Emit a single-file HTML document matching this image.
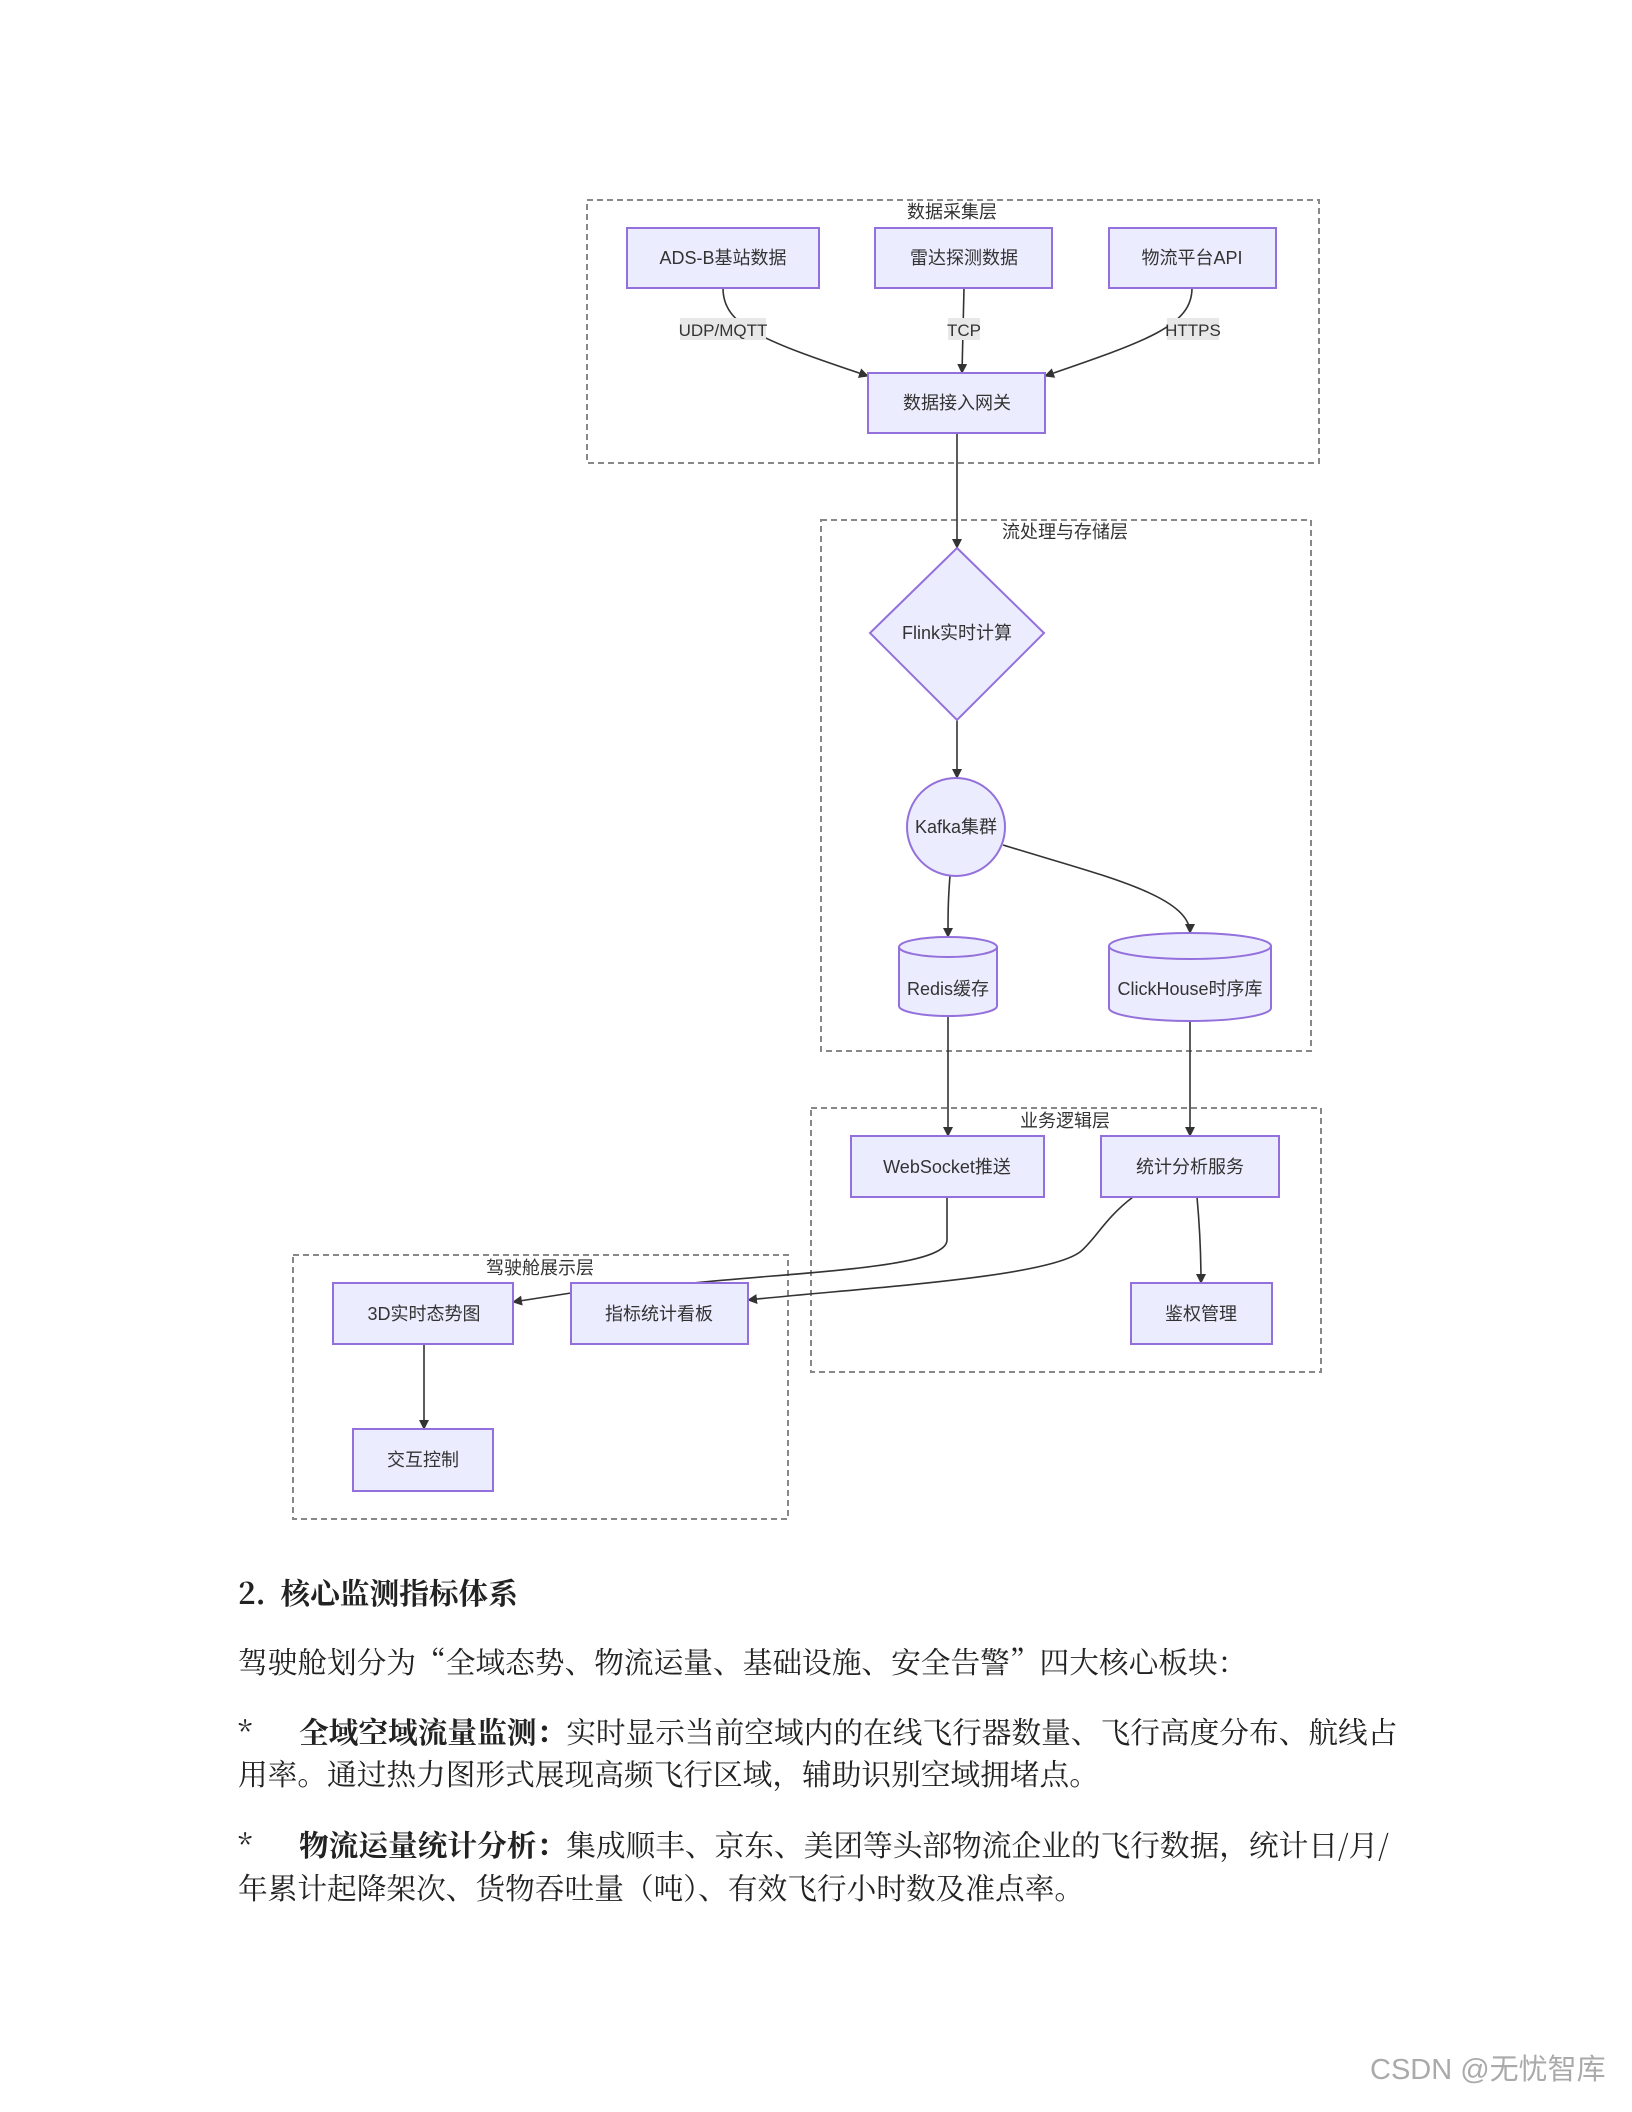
<!DOCTYPE html>
<html><head><meta charset="utf-8"><style>
body{margin:0;background:#fff;width:1632px;height:2112px;position:relative;overflow:hidden}
svg{position:absolute;left:0;top:0}
.t{position:absolute;font-family:"Noto Serif CJK SC","Liberation Serif",serif;font-size:29.7px;line-height:40px;color:#222;white-space:nowrap}
</style></head><body>
<svg width="1632" height="2112" viewBox="0 0 1632 2112" font-family="'Liberation Sans','Noto Sans CJK SC',sans-serif">
<defs><marker id="a" markerWidth="10" markerHeight="10" refX="9" refY="5" orient="auto" markerUnits="userSpaceOnUse"><path d="M0,0 L10,5 L0,10 z" fill="#333"/></marker></defs>
<g fill="none" stroke="#888" stroke-width="2" stroke-dasharray="6,4">
<rect x="587" y="200" width="732" height="263"/>
<rect x="821" y="520" width="490" height="531"/>
<rect x="811" y="1108" width="510" height="264"/>
<rect x="293" y="1255" width="495" height="264"/>
</g>
<g font-size="18" fill="#333" text-anchor="middle">
<text x="952" y="218">数据采集层</text>
<text x="1065" y="538">流处理与存储层</text>
<text x="1065" y="1127">业务逻辑层</text>
<text x="540" y="1274">驾驶舱展示层</text>
</g>
<g fill="none" stroke="#333" stroke-width="1.6">
<path d="M723,288 C723,325 760,340 868,376" marker-end="url(#a)"/>
<path d="M964,288 L962,373" marker-end="url(#a)"/>
<path d="M1192,288 C1192,325 1150,340 1045,376" marker-end="url(#a)"/>
<path d="M957,433 L957,548" marker-end="url(#a)"/>
<path d="M957,720 L957,778" marker-end="url(#a)"/>
<path d="M950,876 C948,900 948,915 948,937" marker-end="url(#a)"/>
<path d="M1003,845 C1100,875 1190,895 1190,933" marker-end="url(#a)"/>
<path d="M948,1016 L948,1136" marker-end="url(#a)"/>
<path d="M1190,1021 L1190,1136" marker-end="url(#a)"/>
<path d="M947,1197 L947,1240 C947,1268 800,1272 693,1283"/>
<path d="M1133,1197 C1105,1218 1095,1240 1080,1252 C1045,1278 860,1288 748,1300" marker-end="url(#a)"/>
<path d="M571,1293 L513,1302" marker-end="url(#a)"/>
<path d="M1197,1197 C1200,1230 1201,1255 1201,1283" marker-end="url(#a)"/>
<path d="M424,1344 L424,1429" marker-end="url(#a)"/>
</g>
<g fill="#e8e8e8">
<rect x="680" y="318" width="86" height="22"/>
<rect x="948" y="318" width="32" height="22"/>
<rect x="1167" y="318" width="52" height="22"/>
</g>
<g font-size="17" fill="#333" text-anchor="middle">
<text x="723" y="336">UDP/MQTT</text>
<text x="964" y="336">TCP</text>
<text x="1193" y="336">HTTPS</text>
</g>
<g fill="#ececff" stroke="#9370db" stroke-width="2">
<rect x="627" y="228" width="192" height="60"/>
<rect x="875" y="228" width="177" height="60"/>
<rect x="1109" y="228" width="167" height="60"/>
<rect x="868" y="373" width="177" height="60"/>
<path d="M957,548 L1044,633 L957,720 L870,633 z"/>
<circle cx="956" cy="827" r="49"/>
<path d="M899,947 L899,1006 A49,10 0 0 0 997,1006 L997,947"/>
<ellipse cx="948" cy="947" rx="49" ry="10"/>
<path d="M1109,946 L1109,1008 A81,13 0 0 0 1271,1008 L1271,946"/>
<ellipse cx="1190" cy="946" rx="81" ry="13"/>
<rect x="851" y="1136" width="193" height="61"/>
<rect x="1101" y="1136" width="178" height="61"/>
<rect x="1131" y="1283" width="141" height="61"/>
<rect x="333" y="1283" width="180" height="61"/>
<rect x="571" y="1283" width="177" height="61"/>
<rect x="353" y="1429" width="140" height="62"/>
</g>
<g font-size="18" fill="#333" text-anchor="middle">
<text x="723" y="264">ADS-B基站数据</text>
<text x="964" y="264">雷达探测数据</text>
<text x="1192" y="264">物流平台API</text>
<text x="957" y="409">数据接入网关</text>
<text x="957" y="639">Flink实时计算</text>
<text x="956" y="833">Kafka集群</text>
<text x="948" y="995">Redis缓存</text>
<text x="1190" y="995">ClickHouse时序库</text>
<text x="947" y="1173">WebSocket推送</text>
<text x="1190" y="1173">统计分析服务</text>
<text x="1201" y="1320">鉴权管理</text>
<text x="424" y="1320">3D实时态势图</text>
<text x="659" y="1320">指标统计看板</text>
<text x="423" y="1466">交互控制</text>
</g>
</svg>
<div class="t" style="left:238px;top:1572px;font-weight:bold">2.&nbsp; 核心监测指标体系</div>
<div class="t" style="left:238px;top:1641px">驾驶舱划分为“全域态势、物流运量、基础设施、安全告警”四大核心板块：</div>
<div class="t" style="left:238px;top:1711px">*</div>
<div class="t" style="left:299px;top:1711px"><b>全域空域流量监测：</b>实时显示当前空域内的在线飞行器数量、飞行高度分布、航线占</div>
<div class="t" style="left:238px;top:1753px">用率。通过热力图形式展现高频飞行区域，辅助识别空域拥堵点。</div>
<div class="t" style="left:238px;top:1824px">*</div>
<div class="t" style="left:299px;top:1824px"><b>物流运量统计分析：</b>集成顺丰、京东、美团等头部物流企业的飞行数据，统计日/月/</div>
<div class="t" style="left:238px;top:1867px">年累计起降架次、货物吞吐量（吨）、有效飞行小时数及准点率。</div>
<div style="position:absolute;left:1370px;top:2046px;font-family:'Liberation Sans','Noto Sans CJK SC',sans-serif;font-size:29px;color:#aaa;white-space:nowrap">CSDN @无忧智库</div>
</body></html>
